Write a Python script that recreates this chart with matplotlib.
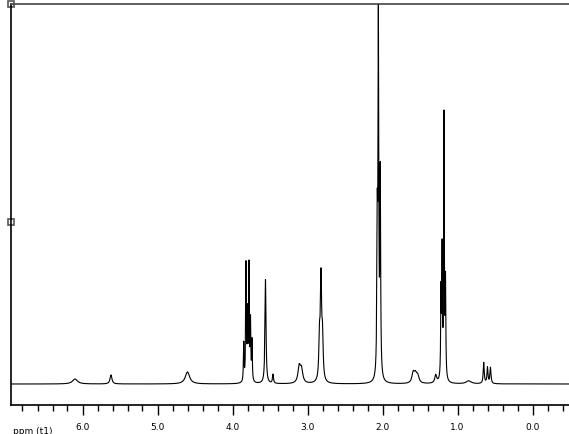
import numpy as np
import matplotlib.pyplot as plt
from matplotlib.ticker import MultipleLocator

# peak list: shift (ppm), height, half width (ppm)
shifts = [6.10, 5.62, 4.60, 3.85, 3.82, 3.80, 3.78, 3.76, 3.74, 3.56, 3.46,
          3.11, 3.08, 2.84, 2.82, 2.80, 2.07, 2.055, 2.03, 1.59, 1.56, 1.53, 1.29,
          1.22, 1.205, 1.18, 1.16, 0.85, 0.65, 0.60, 0.56]
heights = [5, 9, 12, 38, 116, 65, 114, 58, 40, 104, 9,
           16, 13, 40, 100, 40, 140, 355, 200, 10, 8, 7, 8,
           85, 125, 262, 95, 3, 21, 16, 16]
widths = [0.04, 0.015, 0.035, 0.005, 0.005, 0.005, 0.005, 0.005, 0.005, 0.008, 0.008,
          0.02, 0.02, 0.01, 0.01, 0.01, 0.006, 0.006, 0.006, 0.02, 0.02, 0.02, 0.015,
          0.005, 0.005, 0.005, 0.005, 0.04, 0.008, 0.008, 0.008]

ppm = np.arange(-0.5, 7.0, 0.0005)
spec = np.zeros_like(ppm)
for c, h, w in zip(shifts, heights, widths):
    spec += h * w**2 / (w**2 + (ppm - c)**2)

fig = plt.figure(figsize=(5.69, 4.34), dpi=100)
ax = fig.add_axes([11/569, 1-405/434, 558/569, 401/434])
ax.plot(ppm, spec, color='black', lw=0.8)
ax.set_xlim((532.5-11)/75, (532.5-569)/75)
ax.set_ylim(-21, 380)

ax.spines['right'].set_visible(False)
ax.spines['top'].set_color('#444444')
for s in ['left', 'bottom', 'top']:
    ax.spines[s].set_linewidth(1.2)
ax.set_yticks([])
ax.xaxis.set_major_locator(MultipleLocator(1.0))
ax.xaxis.set_minor_locator(MultipleLocator(0.2))
ax.xaxis.set_major_formatter(plt.FuncFormatter(lambda v, p: '%.1f' % abs(v) if v > -0.05 else ''))
ax.tick_params(axis='x', which='major', length=7, width=1, labelsize=6.5, pad=6)
ax.tick_params(axis='x', which='minor', length=4, width=1)

# handle squares on the left axis
ax.plot([0, 0], [1, 0.456], 's', transform=ax.transAxes, ms=4.5,
        mfc='white', mec='#555555', mew=1.2, clip_on=False)

fig.text(13/569, 1-431/434, 'ppm (t1)', fontsize=6.5, va='center', ha='left')

fig.savefig('out.png', dpi=100)
